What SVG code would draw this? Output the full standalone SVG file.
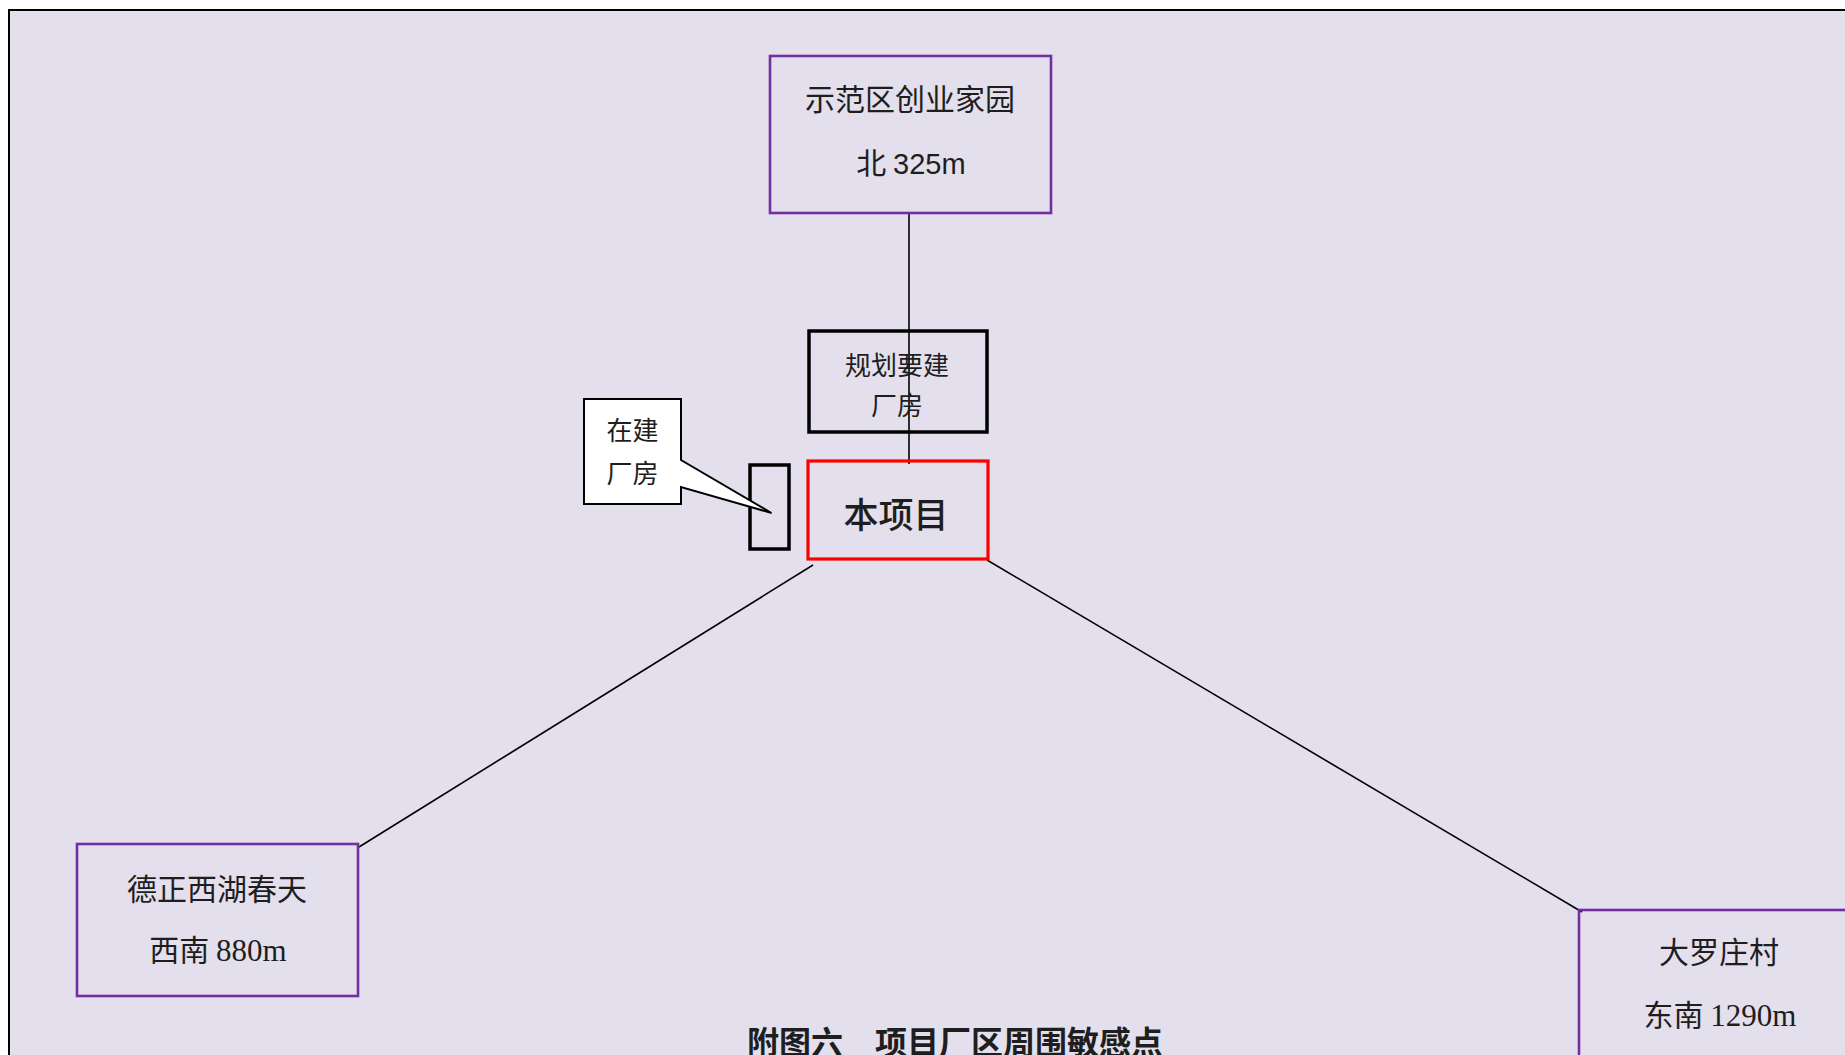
<svg xmlns="http://www.w3.org/2000/svg" width="1845" height="1055" viewBox="0 0 1845 1055">
  <style>
    .frame { fill: #E4DFEC; stroke: #000; stroke-width: 2; }
    .site { fill: none; stroke: #7030A0; stroke-width: 2.6; }
    .blk { fill: none; stroke: #000; stroke-width: 3.5; }
    .proj { fill: none; stroke: #FF0000; stroke-width: 3.2; }
    .call { fill: #FFFFFF; stroke: #000; stroke-width: 2; stroke-linejoin: miter; }
    .conn { stroke: #000; stroke-width: 1.6; fill: none; }
    text { font-family: "Noto Sans CJK SC", "Noto Sans", sans-serif; fill: #1E1E1E; text-anchor: middle; }
    .cn { font-size: 30px; }
    .sm { font-size: 26px; }
    .ser { font-family: "Liberation Serif", "Noto Sans CJK SC", serif; }
    .san { font-family: "Liberation Sans", "Noto Sans CJK SC", sans-serif; }
  </style>
  <rect x="0" y="0" width="1845" height="1055" fill="#FFFFFF"/>
  <rect class="frame" x="9" y="10" width="1900" height="1100"/>

  <g id="connectors">
    <line class="conn" x1="909" y1="214" x2="909" y2="464"/>
    <line class="conn" x1="359" y1="847" x2="813" y2="565"/>
    <line class="conn" x1="987" y1="560" x2="1582" y2="912"/>
  </g>

  <g id="node-north">
    <rect class="site" x="770" y="56" width="281" height="157"/>
    <text class="cn" x="910" y="109.5">示范区创业家园</text>
    <text class="cn" x="911" y="174"><tspan>北 </tspan><tspan class="san" font-size="29">325m</tspan></text>
  </g>

  <g id="node-planned">
    <rect class="blk" x="809" y="331" width="178" height="101"/>
    <text class="sm" x="897" y="374.5">规划要建</text>
    <text class="sm" x="897" y="415">厂房</text>
  </g>

  <g id="node-project">
    <rect class="proj" x="808" y="461" width="180" height="98"/>
    <text x="896" y="528" font-size="35" font-weight="500">本项目</text>
  </g>

  <g id="node-building">
    <rect class="blk" x="750" y="465" width="39" height="84"/>
  </g>

  <g id="node-callout">
    <path class="call" d="M584,399 L681,399 L681,460 L771.5,513 L681,487 L681,504 L584,504 Z"/>
    <text class="sm" x="632.5" y="440">在建</text>
    <text class="sm" x="632.5" y="483">厂房</text>
  </g>

  <g id="node-southwest">
    <rect class="site" x="77" y="844" width="281" height="152"/>
    <text class="cn" x="217" y="899.5">德正西湖春天</text>
    <text class="cn" x="218" y="961"><tspan>西南 </tspan><tspan class="ser" font-size="31">880m</tspan></text>
  </g>

  <g id="node-southeast">
    <rect class="site" x="1579" y="910" width="320" height="200"/>
    <text class="cn" x="1719" y="962.5">大罗庄村</text>
    <text class="cn" x="1720" y="1025.5"><tspan>东南 </tspan><tspan class="ser" font-size="31">1290m</tspan></text>
  </g>

  <g id="caption">
    <text x="955" y="1054" font-size="32" font-weight="bold" fill="#000">附图六　项目厂区周围敏感点</text>
  </g>
</svg>
